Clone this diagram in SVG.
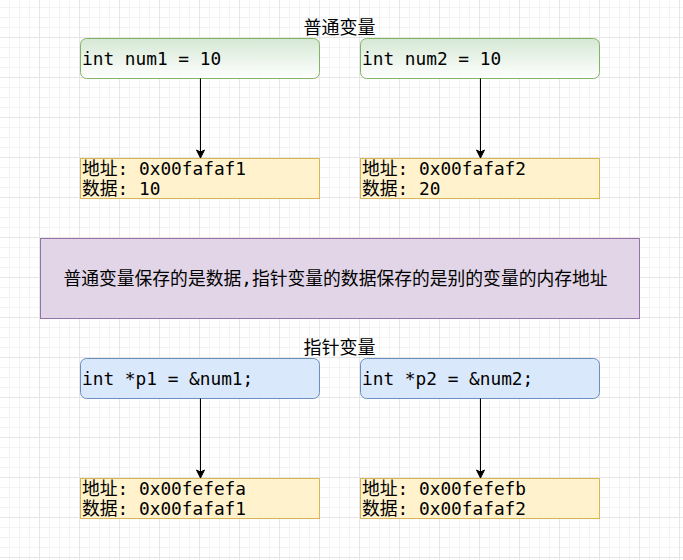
<svg xmlns="http://www.w3.org/2000/svg" width="683" height="560" viewBox="0 0 683 560">
<defs>
<pattern id="minor" width="10" height="10" patternUnits="userSpaceOnUse" x="0" y="-2">
<path d="M9.5 0V10M0 9.5H10" fill="none" stroke="#f3f3f3" stroke-width="1"/>
</pattern>
<pattern id="major" width="40" height="40" patternUnits="userSpaceOnUse" x="0" y="-2">
<path d="M39.5 0V40M0 39.5H40" fill="none" stroke="#e6e6e6" stroke-width="1"/>
</pattern>
<linearGradient id="green" x1="0" y1="0" x2="0" y2="1">
<stop offset="0" stop-color="#d5e8d4"/>
<stop offset="1" stop-color="#ffffff"/>
</linearGradient>
<marker id="arrow" viewBox="0 0 10 10" refX="9" refY="5" markerWidth="10" markerHeight="10" markerUnits="userSpaceOnUse" orient="auto">
<path d="M1 1 L9 5 L1 9 L3 5 Z" fill="#000" stroke="#000" stroke-width="1"/>
</marker>
<style>
.code{font-family:"DejaVu Sans Mono","Noto Sans CJK SC",monospace;font-size:17.8px;fill:#000}
.cjk{font-family:"Noto Sans CJK SC","DejaVu Sans",sans-serif;font-size:18px;fill:#000}
.note-t{font-family:"Noto Sans CJK SC","DejaVu Sans",sans-serif;font-size:17.8px;fill:#000}
.mono{font-family:"DejaVu Sans Mono",monospace}
.var{fill:url(#green);stroke:#82b366;stroke-width:1}
.ptr{fill:#dae8fc;stroke:#6c8ebf;stroke-width:1}
.mem{fill:#fff2cc;stroke:#d6b656;stroke-width:1}
.note{fill:#e1d5e7;stroke:#9673a6;stroke-width:1}
.edge{stroke:#000;stroke-width:1;fill:none;marker-end:url(#arrow)}
</style>
</defs>
<rect width="683" height="560" fill="#ffffff"/>
<rect width="683" height="560" fill="url(#minor)"/>
<rect width="683" height="560" fill="url(#major)"/>

<g id="title1"><text class="cjk" x="339.5" y="34" text-anchor="middle">普通变量</text></g>
<g id="title2"><text class="cjk" x="339.5" y="354" text-anchor="middle">指针变量</text></g>

<g id="num1"><rect class="var" x="80.5" y="38.5" width="239" height="40" rx="6"/><text class="code" x="82" y="64.5">int num1 = 10</text></g>
<g id="num2"><rect class="var" x="360.5" y="38.5" width="239" height="40" rx="6"/><text class="code" x="362" y="64.5">int num2 = 10</text></g>

<g id="mem1"><rect class="mem" x="80.5" y="158.5" width="239" height="40"/><text class="code" x="82" y="174.5">地址: 0x00fafaf1</text><text class="code" x="82" y="194.5">数据: 10</text></g>
<g id="mem2"><rect class="mem" x="360.5" y="158.5" width="239" height="40"/><text class="code" x="362" y="174.5">地址: 0x00fafaf2</text><text class="code" x="362" y="194.5">数据: 20</text></g>

<g id="note"><rect class="note" x="40.5" y="238.5" width="599" height="80"/><text class="note-t" x="335.5" y="285" text-anchor="middle">普通变量保存的是数据<tspan class="mono">,</tspan>指针变量的数据保存的是别的变量的内存地址</text></g>

<g id="p1"><rect class="ptr" x="80.5" y="358.5" width="239" height="40" rx="6"/><text class="code" x="82" y="384.5">int *p1 = &amp;num1;</text></g>
<g id="p2"><rect class="ptr" x="360.5" y="358.5" width="239" height="40" rx="6"/><text class="code" x="362" y="384.5">int *p2 = &amp;num2;</text></g>

<g id="mem3"><rect class="mem" x="80.5" y="478.5" width="239" height="40"/><text class="code" x="82" y="494.5">地址: 0x00fefefa</text><text class="code" x="82" y="514.5">数据: 0x00fafaf1</text></g>
<g id="mem4"><rect class="mem" x="360.5" y="478.5" width="239" height="40"/><text class="code" x="362" y="494.5">地址: 0x00fefefb</text><text class="code" x="362" y="514.5">数据: 0x00fafaf2</text></g>

<g id="connectors">
<path class="edge" d="M200.5 78.5V158"/>
<path class="edge" d="M480.5 78.5V158"/>
<path class="edge" d="M200.5 398.5V478"/>
<path class="edge" d="M480.5 398.5V478"/>
</g>
</svg>
